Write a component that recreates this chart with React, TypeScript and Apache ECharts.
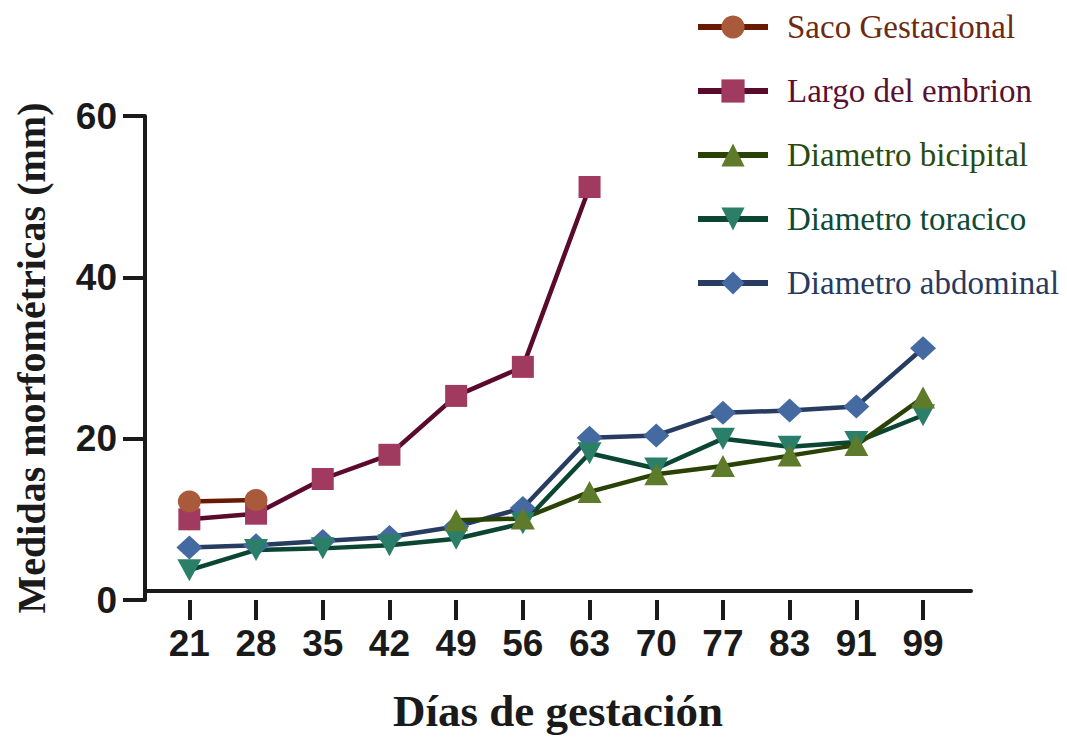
import React, { useEffect, useRef } from "react";
import * as echarts from "echarts";

const days = ["21", "28", "35", "42", "49", "56", "63", "70", "77", "83", "91", "99"];
const sacoGestacional = [12.2, 12.4, null, null, null, null, null, null, null, null, null, null];
const largoEmbrion = [10.0, 10.7, 15.0, 18.0, 25.3, 28.9, 51.2, null, null, null, null, null];
const diametroBicipital = [null, null, null, null, 9.9, 10.1, 13.4, 15.6, 16.6, 17.9, 19.2, 25.1];
const diametroToracico = [3.7, 6.2, 6.4, 6.8, 7.6, 9.5, 18.2, 16.3, 20.0, 19.0, 19.6, 22.9];
const diametroAbdominal = [6.5, 6.8, 7.3, 7.8, 9.1, 11.4, 20.1, 20.4, 23.2, 23.5, 24.0, 31.2];
const yMin = 0;
const yMax = 60;
const yStep = 20;

const legendOrder = [
  "Saco Gestacional",
  "Largo del embrion",
  "Diametro bicipital",
  "Diametro toracico",
  "Diametro abdominal",
];

const defs = [
  { name: "Diametro abdominal", data: diametroAbdominal, line: "#283c62", marker: "#4569a1", text: "#283a5e", symbol: "diamond", size: [26, 24], rotate: 0 },
  { name: "Diametro toracico", data: diametroToracico, line: "#0b4633", marker: "#2b7f69", text: "#0e4a36", symbol: "triangle", size: [24, 22], rotate: 180 },
  { name: "Diametro bicipital", data: diametroBicipital, line: "#2a4205", marker: "#5e7b2b", text: "#2a4a10", symbol: "triangle", size: [24, 22], rotate: 0 },
  { name: "Largo del embrion", data: largoEmbrion, line: "#5a0a2c", marker: "#a03a5e", text: "#5a1030", symbol: "rect", size: [22, 22], rotate: 0 },
  { name: "Saco Gestacional", data: sacoGestacional, line: "#6a1a00", marker: "#a85a3a", text: "#6e2a10", symbol: "circle", size: [23, 22], rotate: 0 },
];

const axisColor = "#1a1a1a";

export default function App() {
  const ref = useRef<HTMLDivElement>(null);
  useEffect(() => {
    if (!ref.current) return;
    const chart = echarts.init(ref.current, undefined, { renderer: "svg" });
    const byName: Record<string, any> = {};
    defs.forEach((d) => (byName[d.name] = d));
    chart.setOption({
      animation: false,
      backgroundColor: "#ffffff",
      legend: {
        orient: "vertical",
        left: 690,
        top: 5,
        itemWidth: 70,
        itemHeight: 29,
        itemGap: 30,
        lineStyle: { width: 6 },
        data: legendOrder.map((n) => ({ name: n, textStyle: { color: byName[n].text } })),
        textStyle: {
          fontFamily: "Liberation Serif",
          fontSize: 33,
          lineHeight: 34,
          padding: [0, 0, 0, 14],
        },
      },
      grid: [
        { left: 156, right: 110.6, top: 116, bottom: 138 },
        { left: 145, right: 96, top: 116, bottom: 138 },
      ],
      xAxis: [
        {
          type: "category",
          gridIndex: 0,
          data: days,
          boundaryGap: true,
          axisLine: { show: false },
          axisTick: { show: true, alignWithLabel: true, length: 20, lineStyle: { width: 4, color: axisColor } },
          axisLabel: {
            margin: 25,
            fontFamily: "Liberation Sans",
            fontWeight: "bold",
            fontSize: 37,
            color: axisColor,
          },
          splitLine: { show: false },
        },
        {
          type: "category",
          gridIndex: 1,
          data: days,
          axisLine: { show: true, lineStyle: { width: 4, color: axisColor } },
          axisTick: { show: false },
          axisLabel: { show: false },
          splitLine: { show: false },
          name: "Días de gestación",
          nameLocation: "middle",
          nameGap: 97,
          nameTextStyle: {
            fontFamily: "Liberation Serif",
            fontWeight: "bold",
            fontSize: 45,
            color: axisColor,
          },
        },
      ],
      yAxis: [
        {
          type: "value",
          gridIndex: 0,
          min: yMin,
          max: yMax,
          interval: yStep,
          offset: 11,
          axisLine: { show: true, lineStyle: { width: 4, color: axisColor } },
          axisTick: { show: true, length: 22, lineStyle: { width: 4, color: axisColor } },
          axisLabel: {
            margin: 28,
            fontFamily: "Liberation Sans",
            fontWeight: "bold",
            fontSize: 37,
            color: axisColor,
          },
          splitLine: { show: false },
          name: "Medidas morfométricas (mm)",
          nameLocation: "middle",
          nameGap: 94,
          nameTextStyle: {
            fontFamily: "Liberation Serif",
            fontWeight: "bold",
            fontSize: 40,
            color: axisColor,
          },
        },
        {
          type: "value",
          gridIndex: 1,
          min: yMin,
          max: yMax,
          show: false,
        },
      ],
      series: defs.map((d) => ({
        name: d.name,
        type: "line",
        xAxisIndex: 0,
        yAxisIndex: 0,
        data: d.data,
        symbol: d.symbol,
        symbolSize: d.size,
        symbolRotate: d.rotate,
        showSymbol: true,
        lineStyle: { color: d.line, width: 4.5 },
        itemStyle: { color: d.marker, borderWidth: 0 },
        emphasis: { disabled: true },
      })),
    });
    return () => chart.dispose();
  }, []);
  return <div ref={ref} style={{ width: 1067, height: 738, position: "absolute", left: 0, top: 0 }} />;
}
